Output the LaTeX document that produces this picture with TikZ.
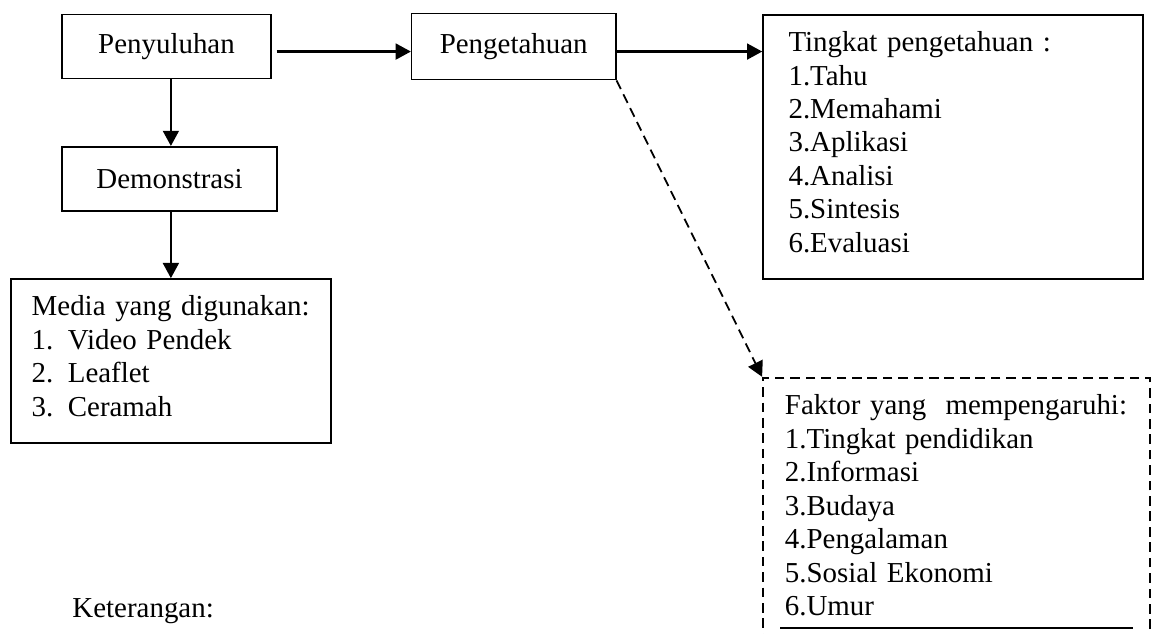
\documentclass[tikz,border=0pt]{standalone}
\usepackage{fontspec}
\setmainfont{Liberation Serif}
\usetikzlibrary{arrows.meta}

\tikzset{>={Triangle[length=6.3pt,width=6.6pt]}}

\begin{document}
\begin{tikzpicture}[x=0.415pt,y=-0.415pt,
    every node/.style={font=\fontsize{12}{13.9}\selectfont},
    box/.style={draw,line width=0.65pt,inner sep=0pt},
    listbox/.style={box,align=left},
    dbox/.style={listbox,line width=0.75pt,dash pattern=on 4pt off 2.4pt},
    arr/.style={->,line width=0.9pt}]

    \useasboundingbox (0,0) rectangle (1158,634);
    \clip (0,0) rectangle (1158,634);

    \node[box,minimum width=86.7pt,minimum height=26.6pt] (a) at (166.5,46.5) {Penyuluhan};
    \node[box,minimum width=84.7pt,minimum height=27.5pt] (b) at (513.7,46.5) {Pengetahuan};
    \node[box,minimum width=89.2pt,minimum height=26.7pt] (c) at (169.5,178.9) {Demonstrasi};
    \node[listbox,minimum height=68.1pt,inner xsep=8.7pt,text width=115.5pt] (d) at (170.9,361)
        {Media yang digunakan:\\
         \makebox[15pt][l]{1.}Video Pendek\\
         \makebox[15pt][l]{2.}Leaflet\\
         \makebox[15pt][l]{3.}Ceramah\strut};
    \node[listbox,minimum height=109.6pt,inner xsep=10.6pt,text width=136.5pt] (e) at (953,147)
        {Tingkat pengetahuan :\\ 1.Tahu\\ 2.Memahami\\ 3.Aplikasi\\ 4.Analisi\\ 5.Sintesis\\ 6.Evaluasi\strut};
    \node[dbox,minimum height=110.1pt,inner xsep=9.1pt,text width=142.4pt] (f) at (956.5,510.4)
        {Faktor yang\ \ mempengaruhi:\\ 1.Tingkat pendidikan\\ 2.Informasi\\ 3.Budaya\\ 4.Pengalaman\\ 5.Sosial Ekonomi\\ 6.Umur\strut};
    \node[anchor=base west,inner sep=0pt] (g) at (72,618) {Keterangan:};

    \draw [arr,shorten <=2pt] ([yshift=-2.1pt]a.east) to ([yshift=-2.1pt]b.west);
    \draw [arr] ([yshift=-2.1pt]b.east) to ([yshift=-2.1pt]b.east -| e.west);
    \draw [arr] (a.south -| d.north) to (c.north -| d.north);
    \draw [arr] (c.south -| d.north) to (d.north);
    \draw [arr,line width=0.75pt,dash pattern=on 4pt off 2.4pt] (b.south east) to (f.north west);
    \draw [line width=0.9pt] (780,628) -- (1133,628);

  \end{tikzpicture}
\end{document}
